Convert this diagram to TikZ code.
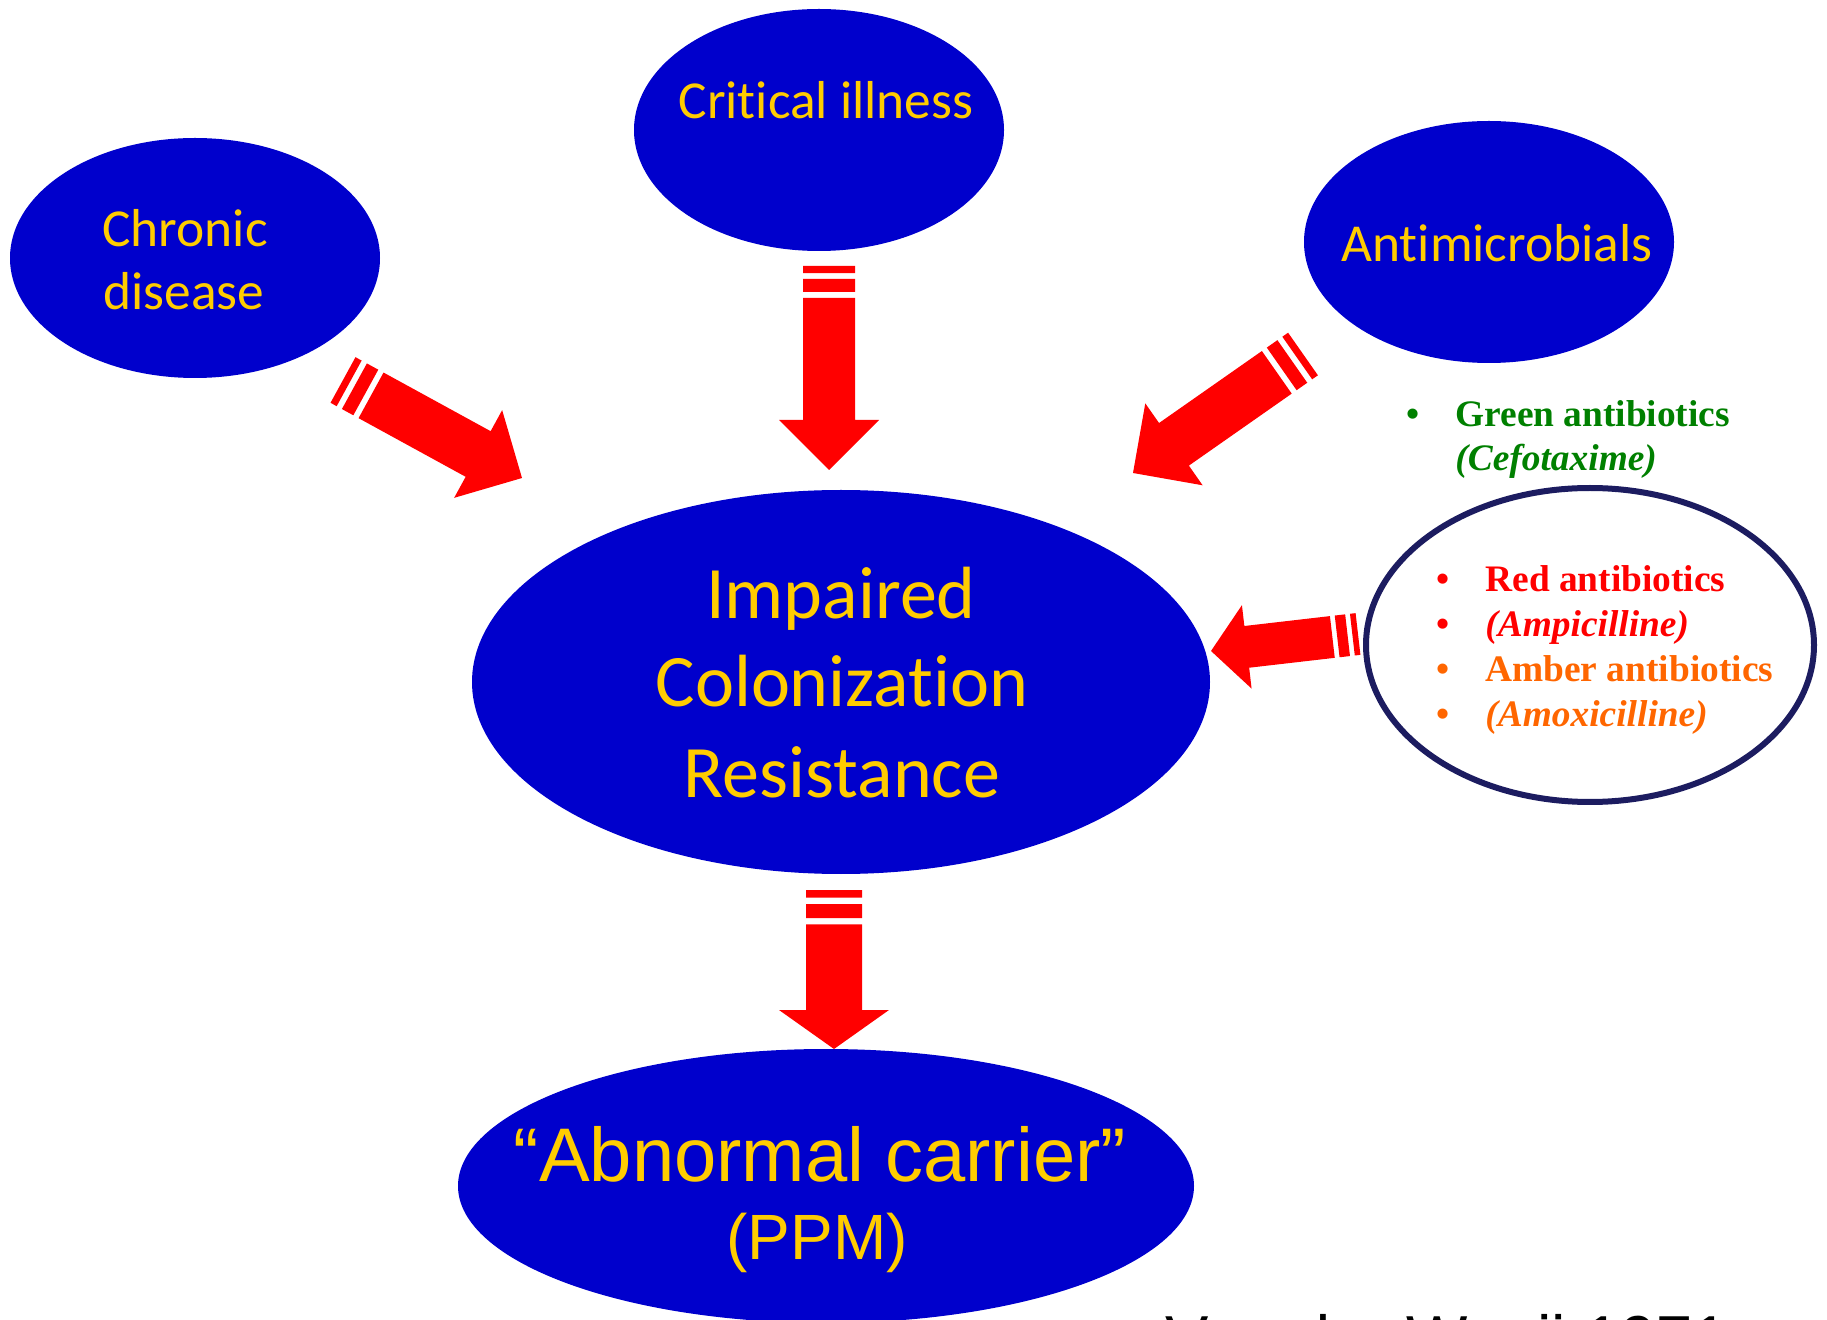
\documentclass[tikz,border=0pt]{standalone}
\usepackage{fontspec}
\setmainfont{Liberation Serif}
\newfontfamily\calibrifont[Ligatures=NoCommon]{Carlito}
\newfontfamily\arialfont{Liberation Sans}
\usetikzlibrary{shapes.geometric}
\usetikzlibrary{calc}

\definecolor{ppblue}{RGB}{0,0,204}
\definecolor{ppgold}{RGB}{255,204,0}
\definecolor{ppnavy}{RGB}{28,28,96}
\definecolor{arrowred}{RGB}{255,0,0}
\definecolor{abgreen}{RGB}{0,128,0}
\definecolor{abred}{RGB}{255,0,0}
\definecolor{abamber}{RGB}{255,102,0}

\tikzset{
  blob/.style={ellipse, fill=ppblue, inner sep=0pt},
  listblob/.style={ellipse, draw=ppnavy, line width=3pt, fill=white, inner sep=0pt},
  goldtext/.style={text=ppgold, inner sep=0pt, anchor=base,
    font=\calibrifont\fontsize{26.7}{32}\selectfont},
  bigtext/.style={goldtext, font=\calibrifont\fontsize{37}{44}\selectfont},
  abtext/.style={inner sep=0pt, anchor=base west,
    font=\bfseries\fontsize{18.7}{22}\selectfont},
  abbullet/.style={inner sep=0pt, anchor=base,
    font=\bfseries\fontsize{18.7}{22}\selectfont}
}

% "ti" without the Carlito ligature
\newcommand{\tI}{t\kern0pt i}

% striped block arrow: tail, tip, half shaft, half head, head length
\newcommand{\stripedarrow}[5]{%
  \fill[arrowred]
    ($(#1)!0pt!(#2)!#3!90:(#2)$) -- ($(#1)!{0.27*#3}!(#2)!#3!90:(#2)$) --
    ($(#1)!{0.27*#3}!(#2)!#3!-90:(#2)$) -- ($(#1)!0pt!(#2)!#3!-90:(#2)$) -- cycle
    ($(#1)!{0.5*#3}!(#2)!#3!90:(#2)$) -- ($(#1)!{1.0*#3}!(#2)!#3!90:(#2)$) --
    ($(#1)!{1.0*#3}!(#2)!#3!-90:(#2)$) -- ($(#1)!{0.5*#3}!(#2)!#3!-90:(#2)$) -- cycle
    ($(#1)!{1.23*#3}!(#2)!#3!90:(#2)$) -- ($(#2)!#5!(#1)!#3!-90:(#1)$) --
    ($(#2)!#5!(#1)!#4!-90:(#1)$) -- (#2) --
    ($(#2)!#5!(#1)!#4!90:(#1)$) -- ($(#2)!#5!(#1)!#3!90:(#1)$) --
    ($(#1)!{1.23*#3}!(#2)!#3!-90:(#2)$) -- cycle;}

\begin{document}
\begin{tikzpicture}[x=0.5pt,y=-0.5pt]
  \useasboundingbox (0,0) rectangle (1827,1320);
  \fill[white] (0,0) rectangle (1827,1320);

  % Ellipses
  \node[blob, minimum width=185pt, minimum height=120pt] (chronic) at (195,258) {};
  \node[blob, minimum width=185pt, minimum height=121pt] (critical) at (819,130) {};
  \node[blob, minimum width=185pt, minimum height=121pt] (antimicro) at (1489,242) {};
  \node[blob, minimum width=369pt, minimum height=192pt] (impaired) at (841,682) {};
  \node[blob, minimum width=368pt, minimum height=137pt] (carrier) at (826,1186) {};
  \node[listblob, minimum width=224pt, minimum height=157pt] (abclass) at (1590,645) {};

  % Arrow ends
  \coordinate (chronic-tail) at (343,380);
  \coordinate (chronic-tip) at (522,478);
  \coordinate (critical-tail) at (829,266);
  \coordinate (critical-tip) at (829,470);
  \coordinate (antimicro-tail) at (1303,354);
  \coordinate (antimicro-tip) at (1133,473);
  \coordinate (abclass-tail) at (1358,634);
  \coordinate (abclass-tip) at (1211,651);
  \coordinate (impaired-tail) at (834,890);
  \coordinate (impaired-tip) at (834,1049);

  % Arrows
  \stripedarrow{chronic-tail}{chronic-tip}{13pt}{25pt}{25pt}
  \stripedarrow{critical-tail}{critical-tip}{13pt}{25pt}{25pt}
  \stripedarrow{antimicro-tail}{antimicro-tip}{13pt}{25pt}{25pt}
  \stripedarrow{abclass-tail}{abclass-tip}{10.5pt}{21pt}{18pt}
  \stripedarrow{impaired-tail}{impaired-tip}{14pt}{27.5pt}{19.5pt}

  % Ellipse labels
  \node[goldtext] (critical-txt) at (826,119) {Cri\tI cal illness};
  \node[goldtext] (chronic-txt1) at (185,247) {Chronic};
  \node[goldtext] (chronic-txt2) at (184,310) {disease};
  \node[goldtext] (antimicro-txt) at (1497,262) {An\tI microbials};
  \node[bigtext] (impaired-txt1) at (841,619) {Impaired};
  \node[bigtext] (impaired-txt2) at (842,707) {Coloniza\tI on};
  \node[bigtext] (impaired-txt3) at (842,798) {Resistance};
  \node[goldtext, font=\arialfont\fontsize{38}{44}\selectfont] (carrier-txt1) at (820,1181) {“Abnormal carrier”};
  \node[goldtext, font=\arialfont\fontsize{32}{38}\selectfont] (carrier-txt2) at (817,1259) {(PPM)};

  % Antibiotic classes
  \node[abbullet, text=abgreen] (green-dot) at (1413,427) {\textbullet};
  \node[abtext, text=abgreen] (green-txt) at (1455,427) {Green antibiotics};
  \node[abtext, text=abgreen] (green-ex) at (1455,471) {\itshape (Cefotaxime)};
  \node[abbullet, text=abred] (red-dot) at (1443,592) {\textbullet};
  \node[abtext, text=abred] (red-txt) at (1485,592) {Red antibiotics};
  \node[abbullet, text=abred] (red-dot2) at (1443,637) {\textbullet};
  \node[abtext, text=abred] (red-ex) at (1485,637) {\itshape (Ampicilline)};
  \node[abbullet, text=abamber] (amber-dot) at (1443,682) {\textbullet};
  \node[abtext, text=abamber] (amber-txt) at (1485,682) {Amber antibiotics};
  \node[abbullet, text=abamber] (amber-dot2) at (1443,726) {\textbullet};
  \node[abtext, text=abamber] (amber-ex) at (1485,726) {\itshape (Amoxicilline)};

  % Reference (cut at the lower edge)
  \node[inner sep=0pt, anchor=base west, font=\arialfont\fontsize{32.5}{36}\selectfont] (ref) at (1165,1361) {Van der Waaij 1971};
\end{tikzpicture}
\end{document}
